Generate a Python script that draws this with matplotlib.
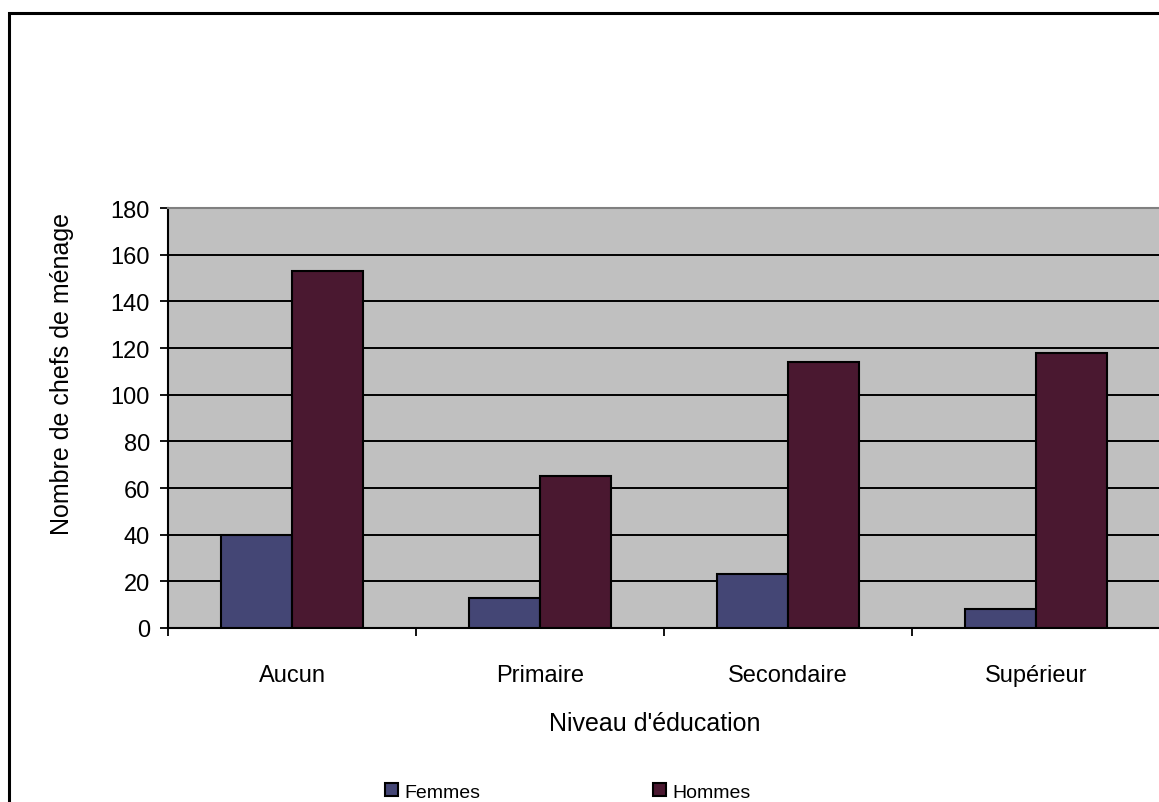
import matplotlib.pyplot as plt
import matplotlib.patches as mpatches
import numpy as np

# Heads of household by education level and sex
niveaux = ["Aucun", "Primaire", "Secondaire", "Supérieur"]
femmes = [40, 13, 23, 8]
hommes = [153, 65, 114, 118]

col_femmes = "#444675"
col_hommes = "#4A1830"

plt.rcParams['font.family'] = ['Liberation Sans', 'DejaVu Sans']

W, H = 1159, 803
fig = plt.figure(figsize=(W / 100, H / 100), dpi=100)

# chart frame (runs off the right and bottom of the image)
fig.patches.append(mpatches.Rectangle((9 / W, -0.1), 1.2, 1.1 - 14 / H,
                                      transform=fig.transFigure, fill=False,
                                      edgecolor='black', linewidth=2.2, zorder=0))

ax = fig.add_axes([168 / W, 1 - 629 / H, 992 / W, 420 / H])
ax.set_facecolor("#C0C0C0")

x = np.arange(len(niveaux))
w = 1 / 3.5
ax.bar(x - w / 2, femmes, w, color=col_femmes, edgecolor='black', linewidth=1.5,
       label="Femmes", zorder=3)
ax.bar(x + w / 2, hommes, w, color=col_hommes, edgecolor='black', linewidth=1.5,
       label="Hommes", zorder=3)

ax.set_xlim(-0.5, len(niveaux) - 0.5)
ax.set_ylim(0, 180)
ax.set_yticks(np.arange(0, 181, 20))
ax.yaxis.grid(True, color='black', linewidth=1.4)
ax.set_axisbelow(True)

ax.set_xticks(x)
ax.set_xticklabels(niveaux, fontsize=17)
ax.set_xticks(np.arange(-0.5, len(niveaux), 1), minor=True)
ax.tick_params(axis='x', which='major', length=0, pad=26)
ax.tick_params(axis='x', which='minor', length=6, width=1.3, direction='out')
ax.tick_params(axis='y', length=6, width=1.3, direction='out', labelsize=17, pad=7)

for s in ['left', 'bottom']:
    ax.spines[s].set_linewidth(1.5)
    ax.spines[s].set_color('black')
ax.spines['top'].set_color('#808080')
ax.spines['top'].set_linewidth(1.5)
ax.spines['right'].set_visible(False)

fig.text(62 / W, 1 - 374 / H, "Nombre de chefs de ménage", rotation=90,
         ha='center', va='center', fontsize=18)
fig.text(655 / W, 1 - 724 / H, "Niveau d'éducation", ha='center', va='center',
         fontsize=18)

fig.legend(loc='center', bbox_to_anchor=(568 / W, 1 - 793 / H), ncol=2,
           frameon=False, fontsize=14, handlelength=0.65, handleheight=0.65,
           handletextpad=0.35, columnspacing=8.9)

fig.savefig("out.png", dpi=100)
